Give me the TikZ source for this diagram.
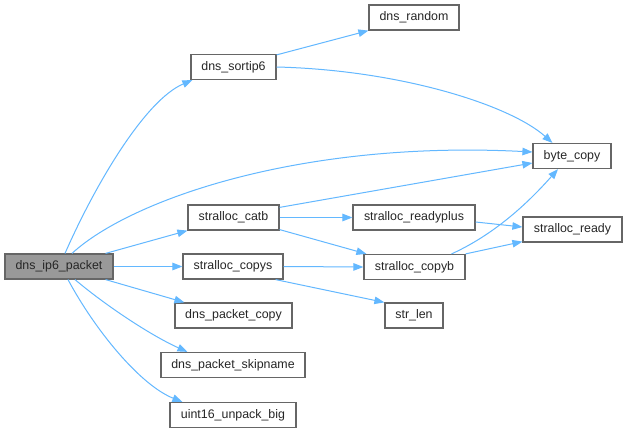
\documentclass[tikz,border=0pt]{standalone}
\usepackage{fontspec}
\setmainfont{Liberation Sans}
\usetikzlibrary{arrows.meta}
\definecolor{edgeblue}{HTML}{63B8FF}
\definecolor{boxgray}{HTML}{666666}
\definecolor{rootfill}{HTML}{999999}
\begin{document}
\begin{tikzpicture}[x=1pt,y=-1pt,
  box/.style={draw=boxgray, line width=1.2pt, fill=white, inner sep=0pt, minimum height=25pt, font=\fontsize{12.4}{14}\selectfont, text=black!85},
  edge/.style={draw=edgeblue, line width=1pt, -{Triangle[length=10pt,width=7.5pt]}}]
\useasboundingbox[fill=white] (0,0) rectangle (627,433);
\node[box, fill=rootfill, minimum width=108pt] (ip6) at (59,266.5) {dns\_ip6\_packet};
\node[box, minimum width=100pt] (copys) at (233,266.5) {stralloc\_copys};
\node[box, minimum width=117pt] (pcopy) at (233.5,315.5) {dns\_packet\_copy};
\node[box, minimum width=144pt] (skip) at (233,365) {dns\_packet\_skipname};
\node[box, minimum width=126pt] (u16) at (233,415) {uint16\_unpack\_big};
\node[box, minimum width=90pt] (rand) at (414,17.5) {dns\_random};
\node[box, minimum width=85pt] (sort) at (233.5,67) {dns\_sortip6};
\node[box, minimum width=91pt] (catb) at (233.5,217.5) {stralloc\_catb};
\node[box, minimum width=122pt] (rplus) at (414,217.5) {stralloc\_readyplus};
\node[box, minimum width=78pt] (bcopy) at (572,156) {byte\_copy};
\node[box, minimum width=99pt] (ready) at (572.5,229.5) {stralloc\_ready};
\node[box, minimum width=101pt] (copyb) at (414.5,267) {stralloc\_copyb};
\node[box, minimum width=58pt] (slen) at (414,315.5) {str\_len};

\draw[edge] ([xshift=6pt]ip6.north) .. controls (95,185) and (145,100) .. ([xshift=2pt]sort.south west);
\draw[edge] ([xshift=13pt]ip6.north) .. controls (130,200) and (300,140) .. ([yshift=4pt]bcopy.west);
\draw[edge] ([xshift=-8pt]ip6.north east) -- (catb.south west);
\draw[edge] (ip6.east) -- (copys.west);
\draw[edge] ([xshift=-8pt]ip6.south east) -- ([xshift=10pt]pcopy.north west);
\draw[edge] ([xshift=16pt]ip6.south) .. controls (105,305) and (150,335) .. ([xshift=27pt]skip.north west);
\draw[edge] ([xshift=9pt]ip6.south) .. controls (95,330) and (140,385) .. ([xshift=13pt]u16.north west);
\draw[edge] ([yshift=-1pt]sort.north east) -- (rand.south west);
\draw[edge] (sort.east) .. controls (400,70) and (510,105) .. ([xshift=20pt]bcopy.north west);
\draw[edge] ([yshift=-3pt]catb.north east) -- ([yshift=-7pt]bcopy.west);
\draw[edge] (catb.east) -- (rplus.west);
\draw[edge] ([yshift=1pt]catb.south east) -- ([xshift=3pt]copyb.north west);
\draw[edge] (copys.east) -- (copyb.west);
\draw[edge] ([xshift=-8pt]copys.south east) -- (slen.north west);
\draw[edge] ([yshift=-4.5pt]rplus.east) -- ([yshift=2.5pt]ready.west);
\draw[edge] ([xshift=37pt]copyb.north) .. controls (500,232) and (535,195) .. ([xshift=-14pt]bcopy.south);
\draw[edge] (copyb.north east) -- ([yshift=1pt]ready.south west);
\end{tikzpicture}
\end{document}
